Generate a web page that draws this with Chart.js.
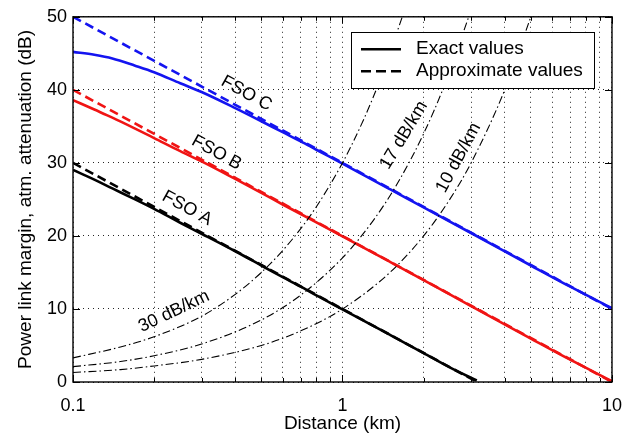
<!DOCTYPE html>
<html><head><meta charset="utf-8">
<script src="https://cdn.jsdelivr.net/npm/chart.js@4.4.1/dist/chart.umd.min.js"></script>
<style>html,body{margin:0;padding:0;background:#fff;}#wrap{width:635px;height:442px;}</style>
</head><body><div id="wrap"><canvas id="c" width="635" height="442"></canvas></div>
<script>
// ---- data ----
const distExact = [0.1,0.12,0.14,0.17,0.2,0.25,0.3,0.4,0.5,0.6,0.7,0.8,1,1.5,2,3,5,7,10];
const fsoCExact = [45.2,44.8,44.3,43.3,42.4,40.9,39.7,37.5,35.7,34.2,32.95,31.8,29.9,26.4,23.9,20.4,15.95,13.05,10.1];
const fsoBExact = [38.6,37.3,36.2,34.7,33.4,31.6,30.2,27.8,25.9,24.3,23.0,21.85,19.95,16.45,13.95,10.4,5.95,3.05,0.1];
const distExactA = [0.1,0.12,0.14,0.17,0.2,0.25,0.3,0.4,0.5,0.6,0.7,0.8,1,1.5,2,2.5,3.15];
const fsoAExact = [29.05,27.7,26.5,25.0,23.7,21.8,20.3,17.9,15.95,14.35,13.05,11.85,9.95,6.45,3.95,2.0,0.2];

const distApprox = [0.1,10];
const fsoCApprox = [50,10];
const fsoBApprox = [40,0];
const distApproxA = [0.1,3.16];
const fsoAApprox = [30,0];

const dist30 = [0.1,0.15,0.2,0.3,0.4,0.5,0.6,0.7,0.8,1,1.2,1.4,1.667];
const att30  = [3.3,4.8,6.2,9.0,12.0,15.0,18.0,21.0,24.0,30.0,36.0,42.0,50.0];
const dist17 = [0.1,0.15,0.2,0.3,0.5,0.7,1,1.3,1.6,2,2.4,2.94];
const att17  = [2.1,2.8,3.6,5.2,8.5,11.9,17,22.1,27.2,34,40.8,50];
const dist10 = [0.1,0.15,0.2,0.3,0.5,0.7,1,1.5,2,2.5,3,4,5];
const att10  = [1.3,1.7,2.2,3.1,5,7,10,15,20,25,30,40,50];

const xGridValues = [0.1,0.2,0.3,0.4,0.5,0.6,0.7,0.8,0.9,1,2,3,4,5,6,7,8,9,10];
const xLabelValues = [0.1,1,10];
const xLabelTexts = ['0.1','1','10'];
const yTickValues = [0,10,20,30,40,50];

const legendTexts = ['Exact values','Approximate values'];
const annotations = [
  {text:'FSO C', x:0.44, y:39.5, rot:29},
  {text:'FSO B', x:0.341, y:31.4, rot:29},
  {text:'FSO A', x:0.265, y:23.8, rot:29},
  {text:'30 dB/km', x:0.237, y:9.66, rot:-25.5},
  {text:'17 dB/km', x:1.69, y:33.8, rot:-59},
  {text:'10 dB/km', x:2.695, y:30.7, rot:-62}
];
// ---------------------------------------------

const FONT = '"Liberation Sans", Arial, Helvetica, sans-serif';
const pts = (xs, ys) => xs.map((v, i) => ({x: v, y: ys[i]}));
const BLUE = '#1414f0', RED = '#f01414', BLACK = '#000';
const DASH = [9,5];
const DASHDOT = [8,3,1.5,3];

function solid(data, color){ return {data, borderColor: color, borderWidth: 2.6, cubicInterpolationMode: 'monotone', pointRadius: 0, fill: false}; }
function dashed(data, color){ return {data, borderColor: color, borderWidth: 2.6, borderDash: DASH, pointRadius: 0, fill: false}; }
function dashdot(data){ return {data, borderColor: BLACK, borderWidth: 1.1, borderDash: DASHDOT, cubicInterpolationMode: 'monotone', pointRadius: 0, fill: false}; }

const overlay = {
  id: 'overlay',
  afterDatasetsDraw(chart) {
    const {ctx, chartArea: a, scales: {x, y}} = chart;
    ctx.save();
    // inward tick marks
    ctx.strokeStyle = '#000'; ctx.lineWidth = 1; ctx.setLineDash([]);
    ctx.beginPath();
    xGridValues.forEach(v => {
      const px = Math.round(x.getPixelForValue(v)) + 0.5;
      const len = xLabelValues.includes(v) ? 7 : 4;
      ctx.moveTo(px, a.bottom); ctx.lineTo(px, a.bottom - len);
      ctx.moveTo(px, a.top); ctx.lineTo(px, a.top + len);
    });
    yTickValues.forEach(v => {
      const py = Math.round(y.getPixelForValue(v)) + 0.5;
      ctx.moveTo(a.left, py); ctx.lineTo(a.left + 7, py);
      ctx.moveTo(a.right, py); ctx.lineTo(a.right - 7, py);
    });
    ctx.stroke();
    // annotations
    ctx.fillStyle = '#000';
    ctx.font = '18px ' + FONT;
    ctx.textAlign = 'center'; ctx.textBaseline = 'middle';
    annotations.forEach(an => {
      ctx.save();
      ctx.translate(x.getPixelForValue(an.x), y.getPixelForValue(an.y));
      ctx.rotate(an.rot * Math.PI / 180);
      ctx.fillText(an.text, 0, 0);
      ctx.restore();
    });
    // legend
    const lx = a.right - 261, ly = a.top + 15.5, lw = 243, lh = 56;
    ctx.fillStyle = '#fff';
    ctx.fillRect(lx, ly, lw, lh);
    ctx.strokeStyle = '#000'; ctx.lineWidth = 1;
    ctx.strokeRect(Math.round(lx) + 0.5, Math.round(ly) + 0.5, lw, lh);
    ctx.lineWidth = 2.6;
    ctx.beginPath(); ctx.moveTo(lx + 10, ly + 17); ctx.lineTo(lx + 50, ly + 17); ctx.stroke();
    ctx.setLineDash([10,5]);
    ctx.beginPath(); ctx.moveTo(lx + 10, ly + 39); ctx.lineTo(lx + 50, ly + 39); ctx.stroke();
    ctx.setLineDash([]);
    ctx.fillStyle = '#000';
    ctx.font = '19px ' + FONT;
    ctx.textAlign = 'left'; ctx.textBaseline = 'middle';
    ctx.fillText(legendTexts[0], lx + 65, ly + 16);
    ctx.fillText(legendTexts[1], lx + 65, ly + 38);
    // box
    ctx.lineWidth = 1.4;
    ctx.strokeRect(a.left, a.top, a.right - a.left, a.bottom - a.top);
    ctx.restore();
  }
};

Chart.defaults.font.family = FONT;
Chart.defaults.color = '#000';

new Chart(document.getElementById('c'), {
  type: 'line',
  data: {
    datasets: [
      dashdot(pts(dist30, att30)),
      dashdot(pts(dist17, att17)),
      dashdot(pts(dist10, att10)),
      solid(pts(distExactA, fsoAExact), BLACK),
      solid(pts(distExact, fsoBExact), RED),
      solid(pts(distExact, fsoCExact), BLUE),
      dashed(pts(distApproxA, fsoAApprox), BLACK),
      dashed(pts(distApprox, fsoBApprox), RED),
      dashed(pts(distApprox, fsoCApprox), BLUE)
    ]
  },
  options: {
    responsive: false, animation: false, devicePixelRatio: 1,
    layout: {padding: {left: 0, right: 19, top: 9.5, bottom: 0}},
    plugins: {legend: {display: false}, tooltip: {enabled: false}},
    scales: {
      x: {
        type: 'logarithmic', min: 0.1, max: 10,
        afterBuildTicks: s => { s.ticks = xGridValues.map(v => ({value: v})); },
        afterFit: s => { s.height = 60; },
        grid: {color: 'rgba(0,0,0,0.85)', lineWidth: 1, drawTicks: false},
        border: {display: false, dash: [1,4]},
        ticks: {autoSkip: false, maxRotation: 0, padding: 13, color: '#000', font: {size: 18},
          callback: v => { const i = xLabelValues.findIndex(t => Math.abs(t - v) < 1e-9); return i >= 0 ? xLabelTexts[i] : ''; }},
        title: {display: true, text: 'Distance (km)', color: '#000', font: {size: 19}, padding: {top: 0, bottom: 7}}
      },
      y: {
        type: 'linear', min: 0, max: 50,
        afterBuildTicks: s => { s.ticks = yTickValues.map(v => ({value: v})); },
        afterFit: s => { s.width = 73; },
        grid: {color: 'rgba(0,0,0,0.85)', lineWidth: 1, drawTicks: false},
        border: {display: false, dash: [1,4]},
        ticks: {padding: 6, color: '#000', font: {size: 18}},
        title: {display: true, text: 'Power link margin, atm. attenuation (dB)', color: '#000', font: {size: 19}, padding: {top: 14, bottom: 0}}
      }
    }
  },
  plugins: [overlay]
});
</script>
</body></html>
